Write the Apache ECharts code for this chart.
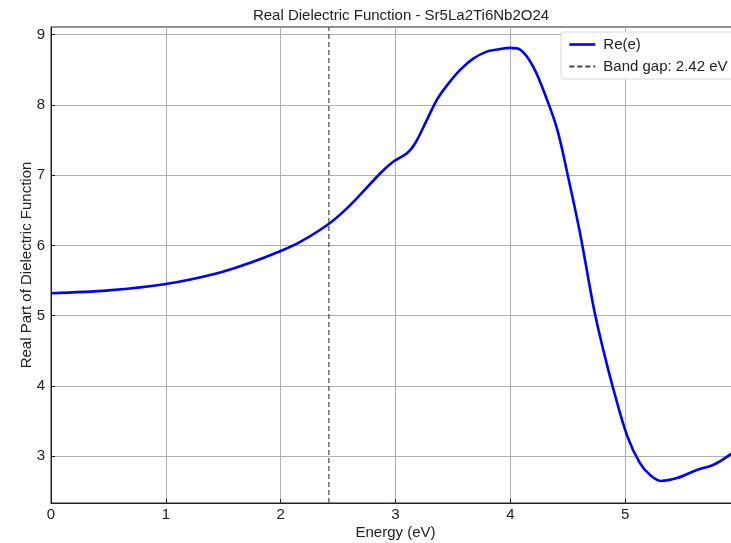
<!DOCTYPE html>
<html>
<head>
<meta charset="utf-8">
<script src="https://cdn.jsdelivr.net/npm/echarts@6/dist/echarts.min.js"></script>
<style>
html,body{margin:0;padding:0;background:#fff;}
#chart{width:731px;height:543px;}
</style>
</head>
<body>
<div id="chart"></div>
<script>
var energy = [0, 0.5, 1.0, 1.44, 1.73, 2.0, 2.17, 2.43, 2.61, 2.87, 2.98, 3.10, 3.17, 3.26, 3.36, 3.45, 3.565, 3.68, 3.80, 3.90, 4.00, 4.09, 4.20, 4.32, 4.41, 4.50, 4.61, 4.73, 4.81, 4.90, 5.02, 5.13, 5.22, 5.31, 5.45, 5.63, 5.77, 5.92, 6.0];
var reEps = [5.32, 5.36, 5.45, 5.60, 5.75, 5.92, 6.05, 6.32, 6.58, 7.03, 7.19, 7.31, 7.45, 7.74, 8.07, 8.28, 8.50, 8.66, 8.76, 8.79, 8.81, 8.78, 8.54, 8.07, 7.64, 7.00, 6.15, 5.08, 4.51, 3.94, 3.28, 2.90, 2.73, 2.65, 2.69, 2.81, 2.88, 3.03, 3.12];
var bandGap = 2.42;
var xTicks = [0, 1, 2, 3, 4, 5, 6];
var yTicks = [3, 4, 5, 6, 7, 8, 9];
var yMin = 2.336, yMax = 9.107;

var font = 'Liberation Sans, Arial, sans-serif';
var fs = 15;
var chart = echarts.init(document.getElementById('chart'));
var lineData = energy.map(function (e, i) { return [e, reEps[i]]; });
var gapData = [[bandGap, yMin], [bandGap, yMax]];

chart.setOption({
  animation: false,
  backgroundColor: '#fff',
  title: {
    text: 'Real Dielectric Function - Sr5La2Ti6Nb2O24',
    left: 396, top: 3, textAlign: 'center',
    textStyle: { fontFamily: font, fontSize: fs, fontWeight: 'normal', color: '#222' }
  },
  legend: {
    left: 561, top: 32,
    orient: 'vertical',
    backgroundColor: '#fff',
    borderColor: '#d8d8d8', borderWidth: 1, borderRadius: 3,
    padding: [5, 12, 5, 7],
    itemGap: 7,
    itemWidth: 26, itemHeight: 12,
    itemStyle: { opacity: 0 },
    textStyle: { fontFamily: font, fontSize: fs, color: '#222', padding: [0, 0, 0, 3] },
    data: [
      { name: 'Re(e)', lineStyle: { width: 2.6 } },
      { name: 'Band gap: 2.42 eV' }
    ]
  },
  grid: {
    left: 51, top: 27, width: 689, height: 476,
    outerBoundsMode: 'none',
    show: true, borderColor: '#222', borderWidth: 1, containLabel: false
  },
  xAxis: {
    type: 'value', min: 0, max: 6,
    name: 'Energy (eV)', nameLocation: 'middle', nameGap: 22, nameMoveOverlap: false,
    nameTextStyle: { fontFamily: font, fontSize: fs, color: '#222' },
    axisLine: { show: true, onZero: false, lineStyle: { color: '#222', width: 1 } },
    axisTick: { show: true, inside: true, length: 4, customValues: xTicks, lineStyle: { color: '#222' } },
    axisLabel: { customValues: xTicks, fontFamily: font, fontSize: fs, color: '#222', margin: 4 },
    splitLine: { show: true, lineStyle: { color: '#b0b0b0', width: 1 } }
  },
  yAxis: {
    type: 'value', min: yMin, max: yMax,
    name: 'Real Part of Dielectric Function', nameLocation: 'middle', nameGap: 17, nameMoveOverlap: false,
    nameTextStyle: { fontFamily: font, fontSize: fs, color: '#222' },
    axisLine: { show: true, onZero: false, lineStyle: { color: '#222', width: 1 } },
    axisTick: { show: true, inside: true, length: 4, customValues: yTicks, lineStyle: { color: '#222' } },
    axisLabel: { customValues: yTicks, fontFamily: font, fontSize: fs, color: '#222', margin: 6 },
    splitLine: { show: true, lineStyle: { color: '#b0b0b0', width: 1 } }
  },
  series: [
    {
      name: 'Re(e)', type: 'line', data: lineData,
      smooth: 0.35, symbol: 'none', clip: true,
      lineStyle: { color: '#0000ff', width: 2.6 },
      itemStyle: { color: '#0000ff' }
    },
    {
      name: 'Band gap: 2.42 eV', type: 'line', data: gapData,
      symbol: 'none',
      lineStyle: { color: '#444', width: 1.2, type: [5, 3] },
      itemStyle: { color: '#444' }
    }
  ]
});
</script>
</body>
</html>
